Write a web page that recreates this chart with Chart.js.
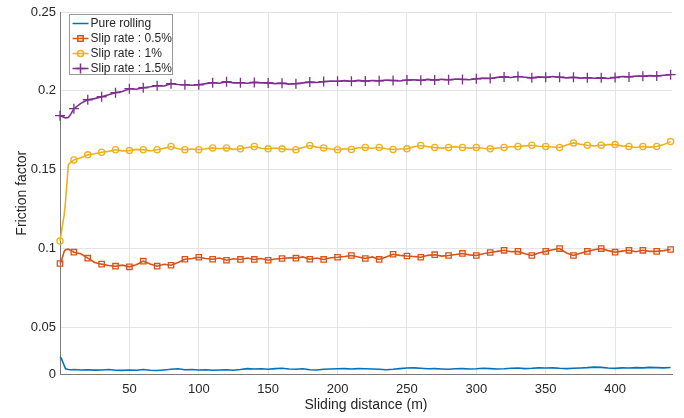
<!DOCTYPE html>
<html>
<head>
<meta charset="utf-8">
<script src="https://cdn.jsdelivr.net/npm/chart.js@4.4.0/dist/chart.umd.min.js"></script>
<style>
  html, body { margin: 0; padding: 0; background: #fff; }
  #wrap { width: 684px; height: 418px; }
</style>
</head>
<body>
<div id="wrap"><canvas id="myChart"></canvas></div>
<script>
// sliding distance (m)
const distance = [0, 1, 2, 3, 4, 6, 8,
  10, 15, 20, 25, 30, 35, 40, 45, 50, 55,
  60, 65, 70, 75, 80, 85, 90, 95, 100, 105,
  110, 115, 120, 125, 130, 135, 140, 145, 150, 155,
  160, 165, 170, 175, 180, 185, 190, 195, 200, 205,
  210, 215, 220, 225, 230, 235, 240, 245, 250, 255,
  260, 265, 270, 275, 280, 285, 290, 295, 300, 305,
  310, 315, 320, 325, 330, 335, 340, 345, 350, 355,
  360, 365, 370, 375, 380, 385, 390, 395, 400, 405,
  410, 415, 420, 425, 430, 435, 440];

const pureRolling = [0.0184, 0.0170, 0.0131, 0.0095, 0.0060, 0.0052, 0.0050,
  0.0052, 0.0048, 0.0050, 0.0046, 0.0048, 0.0052, 0.0045, 0.0043, 0.0047, 0.0045,
  0.0052, 0.0045, 0.0042, 0.0048, 0.0055, 0.0060, 0.0050, 0.0052, 0.0048, 0.0050,
  0.0045, 0.0048, 0.0050, 0.0045, 0.0052, 0.0062, 0.0058, 0.0060, 0.0055, 0.0062,
  0.0065, 0.0058, 0.0055, 0.0060, 0.0050, 0.0048, 0.0055, 0.0058, 0.0060, 0.0062,
  0.0058, 0.0062, 0.0060, 0.0058, 0.0055, 0.0050, 0.0055, 0.0062, 0.0068, 0.0070,
  0.0065, 0.0060, 0.0062, 0.0058, 0.0055, 0.0060, 0.0062, 0.0058, 0.0060, 0.0065,
  0.0062, 0.0058, 0.0060, 0.0065, 0.0068, 0.0062, 0.0065, 0.0070, 0.0068, 0.0070,
  0.0065, 0.0062, 0.0065, 0.0068, 0.0072, 0.0078, 0.0075, 0.0068, 0.0065, 0.0070,
  0.0068, 0.0072, 0.0070, 0.0075, 0.0072, 0.0070, 0.0074];

const slip05 = [0.0903, 0.0920, 0.0950, 0.0980, 0.0990, 0.0994, 0.0985,
  0.0975, 0.0965, 0.0937, 0.0910, 0.0899, 0.0890, 0.0886, 0.0893, 0.0882, 0.0895,
  0.0918, 0.0900, 0.0886, 0.0898, 0.0892, 0.0910, 0.0930, 0.0935, 0.0943, 0.0935,
  0.0930, 0.0938, 0.0924, 0.0933, 0.0929, 0.0938, 0.0929, 0.0935, 0.0924, 0.0932,
  0.0935, 0.0940, 0.0937, 0.0945, 0.0930, 0.0938, 0.0929, 0.0940, 0.0943, 0.0948,
  0.0954, 0.0945, 0.0935, 0.0945, 0.0929, 0.0945, 0.0962, 0.0955, 0.0951, 0.0948,
  0.0943, 0.0955, 0.0959, 0.0950, 0.0954, 0.0960, 0.0967, 0.0958, 0.0954, 0.0965,
  0.0973, 0.0980, 0.0987, 0.0978, 0.0980, 0.0965, 0.0954, 0.0970, 0.0980, 0.0990,
  0.0998, 0.0970, 0.0954, 0.0968, 0.0980, 0.0990, 0.0998, 0.0985, 0.0975, 0.0982,
  0.0987, 0.0978, 0.0987, 0.0980, 0.0980, 0.0985, 0.0992];

const slip1 = [0.1046, 0.1100, 0.1160, 0.1210, 0.1300, 0.1530, 0.1548,
  0.1561, 0.1575, 0.1593, 0.1600, 0.1610, 0.1615, 0.1625, 0.1618, 0.1620, 0.1628,
  0.1625, 0.1618, 0.1625, 0.1635, 0.1646, 0.1632, 0.1625, 0.1630, 0.1625, 0.1632,
  0.1637, 0.1632, 0.1637, 0.1628, 0.1631, 0.1640, 0.1646, 0.1635, 0.1631, 0.1636,
  0.1631, 0.1628, 0.1625, 0.1640, 0.1652, 0.1642, 0.1637, 0.1630, 0.1625, 0.1632,
  0.1627, 0.1638, 0.1640, 0.1635, 0.1640, 0.1632, 0.1627, 0.1630, 0.1631, 0.1645,
  0.1652, 0.1645, 0.1640, 0.1636, 0.1640, 0.1645, 0.1640, 0.1636, 0.1640, 0.1635,
  0.1631, 0.1637, 0.1640, 0.1644, 0.1646, 0.1650, 0.1654, 0.1648, 0.1646, 0.1643,
  0.1640, 0.1655, 0.1669, 0.1660, 0.1654, 0.1650, 0.1654, 0.1658, 0.1658, 0.1650,
  0.1646, 0.1640, 0.1646, 0.1642, 0.1646, 0.1658, 0.1677];

const slip15 = [0.1842, 0.1840, 0.1835, 0.1830, 0.1828, 0.1830, 0.1855,
  0.1886, 0.1920, 0.1943, 0.1950, 0.1962, 0.1975, 0.1988, 0.1995, 0.2013, 0.2010,
  0.2019, 0.2025, 0.2032, 0.2030, 0.2045, 0.2040, 0.2038, 0.2035, 0.2038, 0.2045,
  0.2051, 0.2048, 0.2057, 0.2050, 0.2051, 0.2048, 0.2053, 0.2050, 0.2050, 0.2045,
  0.2048, 0.2042, 0.2045, 0.2050, 0.2055, 0.2052, 0.2058, 0.2062, 0.2060, 0.2064,
  0.2060, 0.2066, 0.2062, 0.2065, 0.2063, 0.2068, 0.2065, 0.2062, 0.2068, 0.2070,
  0.2066, 0.2072, 0.2068, 0.2073, 0.2070, 0.2075, 0.2072, 0.2070, 0.2076, 0.2080,
  0.2078, 0.2085, 0.2088, 0.2084, 0.2090, 0.2086, 0.2082, 0.2088, 0.2085, 0.2090,
  0.2086, 0.2082, 0.2085, 0.2080, 0.2083, 0.2079, 0.2082, 0.2078, 0.2084, 0.2090,
  0.2088, 0.2094, 0.2092, 0.2096, 0.2094, 0.2098, 0.2102];

const xTicks = [50, 100, 150, 200, 250, 300, 350, 400];
const yTicks = [0, 0.05, 0.1, 0.15, 0.2, 0.25];

const font = 'Liberation Sans, Arial, sans-serif';
const ink = '#262626';

// the source figure's y axis has a shorter 0..0.05 band than the rest
const BREAK = 0.05, BREAK_FRAC = 47.5 / 362.5;
class SplitScale extends Chart.LinearScale {
  static id = 'split';
  static defaults = Chart.LinearScale.defaults;
  getPixelForValue(v) {
    if (v === null || v === undefined) return NaN;
    const d = v <= BREAK
      ? (v - this.min) / (BREAK - this.min) * BREAK_FRAC
      : BREAK_FRAC + (v - BREAK) / (this.max - BREAK) * (1 - BREAK_FRAC);
    return this.getPixelForDecimal(d);
  }
  getValueForPixel(p) {
    const d = this.getDecimalForPixel(p);
    return d <= BREAK_FRAC
      ? this.min + d / BREAK_FRAC * (BREAK - this.min)
      : BREAK + (d - BREAK_FRAC) / (1 - BREAK_FRAC) * (this.max - BREAK);
  }
}
Chart.register(SplitScale);

const pts = ys => distance.map((d, i) => ({ x: d, y: ys[i] }));
const every10 = r => ctx => (distance[ctx.dataIndex] % 10 === 0 ? r : 0);

const datasets = [
  { label: 'Pure rolling', data: pts(pureRolling), borderColor: '#0072BD',
    pointRadius: 0, pointStyle: false, mark: null, order: 4 },
  { label: 'Slip rate : 0.5%', data: pts(slip05), borderColor: '#D95319',
    pointStyle: 'rect', pointRadius: every10(3.8), mark: 3.8, order: 3 },
  { label: 'Slip rate : 1%', data: pts(slip1), borderColor: '#EDB120',
    pointStyle: 'circle', pointRadius: every10(3.1), mark: 3.1, order: 2 },
  { label: 'Slip rate : 1.5%', data: pts(slip15), borderColor: '#7E2F8E',
    pointStyle: 'cross', pointRadius: every10(5), mark: 5, order: 1 }
].map(ds => Object.assign({
  borderWidth: 1.6,
  pointBorderColor: ds.borderColor,
  pointBackgroundColor: 'rgba(0,0,0,0)',
  pointBorderWidth: 1.3,
  pointHoverRadius: 0,
  tension: 0,
  clip: false
}, ds));

// MATLAB style legend box in the upper left corner
const legendBox = {
  id: 'legendBox',
  afterDraw(chart) {
    const { ctx, chartArea } = chart;
    const x0 = chartArea.left + 9.5, y0 = chartArea.top + 2.5;
    ctx.save();
    ctx.fillStyle = '#fff';
    ctx.strokeStyle = '#999';
    ctx.lineWidth = 1;
    ctx.fillRect(x0, y0, 103, 60);
    ctx.strokeRect(x0, y0, 103, 60);
    ctx.font = '12px ' + font;
    ctx.textBaseline = 'middle';
    chart.data.datasets.forEach((ds, i) => {
      const y = y0 + 9 + i * 15;
      ctx.strokeStyle = ds.borderColor;
      ctx.lineWidth = 1.5;
      ctx.beginPath();
      ctx.moveTo(x0 + 3, y);
      ctx.lineTo(x0 + 19, y);
      ctx.stroke();
      if (ds.mark) {
        ctx.fillStyle = 'rgba(0,0,0,0)';
        Chart.helpers.drawPoint(ctx, { pointStyle: ds.pointStyle, radius: ds.mark, rotation: 0, borderWidth: 1.3 }, x0 + 11, y);
      }
      ctx.fillStyle = ink;
      ctx.fillText(ds.label, x0 + 21, y + 0.5);
    });
    ctx.restore();
  }
};

new Chart(document.getElementById('myChart'), {
  type: 'line',
  data: { datasets },
  plugins: [legendBox],
  options: {
    animation: false,
    responsive: true,
    maintainAspectRatio: false,
    layout: { padding: { left: 0, right: 12, top: 12, bottom: 0 } },
    plugins: { legend: { display: false }, tooltip: { enabled: false } },
    scales: {
      x: {
        type: 'linear', min: 0, max: 441,
        afterBuildTicks: s => { s.ticks = xTicks.map(v => ({ value: v })); },
        afterFit: s => { s.height = 43.5; },
        grid: { color: '#e4e4e4', drawTicks: false },
        border: { color: '#7a7a7a', width: 1 },
        ticks: { color: ink, font: { family: font, size: 13 }, padding: 7, maxRotation: 0, callback: v => String(v) },
        title: { display: true, text: 'Sliding distance (m)', color: ink,
          font: { family: font, size: 14 }, padding: { top: 0, bottom: 4 } }
      },
      y: {
        type: 'split', min: 0, max: 0.25,
        afterBuildTicks: s => { s.ticks = yTicks.map(v => ({ value: v })); },
        afterFit: s => { s.width = 60; },
        grid: { color: '#e4e4e4', drawTicks: false },
        border: { color: '#7a7a7a', width: 1 },
        ticks: { color: ink, font: { family: font, size: 13 }, padding: 4, callback: v => String(v) },
        title: { display: true, text: 'Friction factor', color: ink,
          font: { family: font, size: 14 }, padding: { top: 14, bottom: 0 } }
      }
    }
  }
});
</script>
</body>
</html>
